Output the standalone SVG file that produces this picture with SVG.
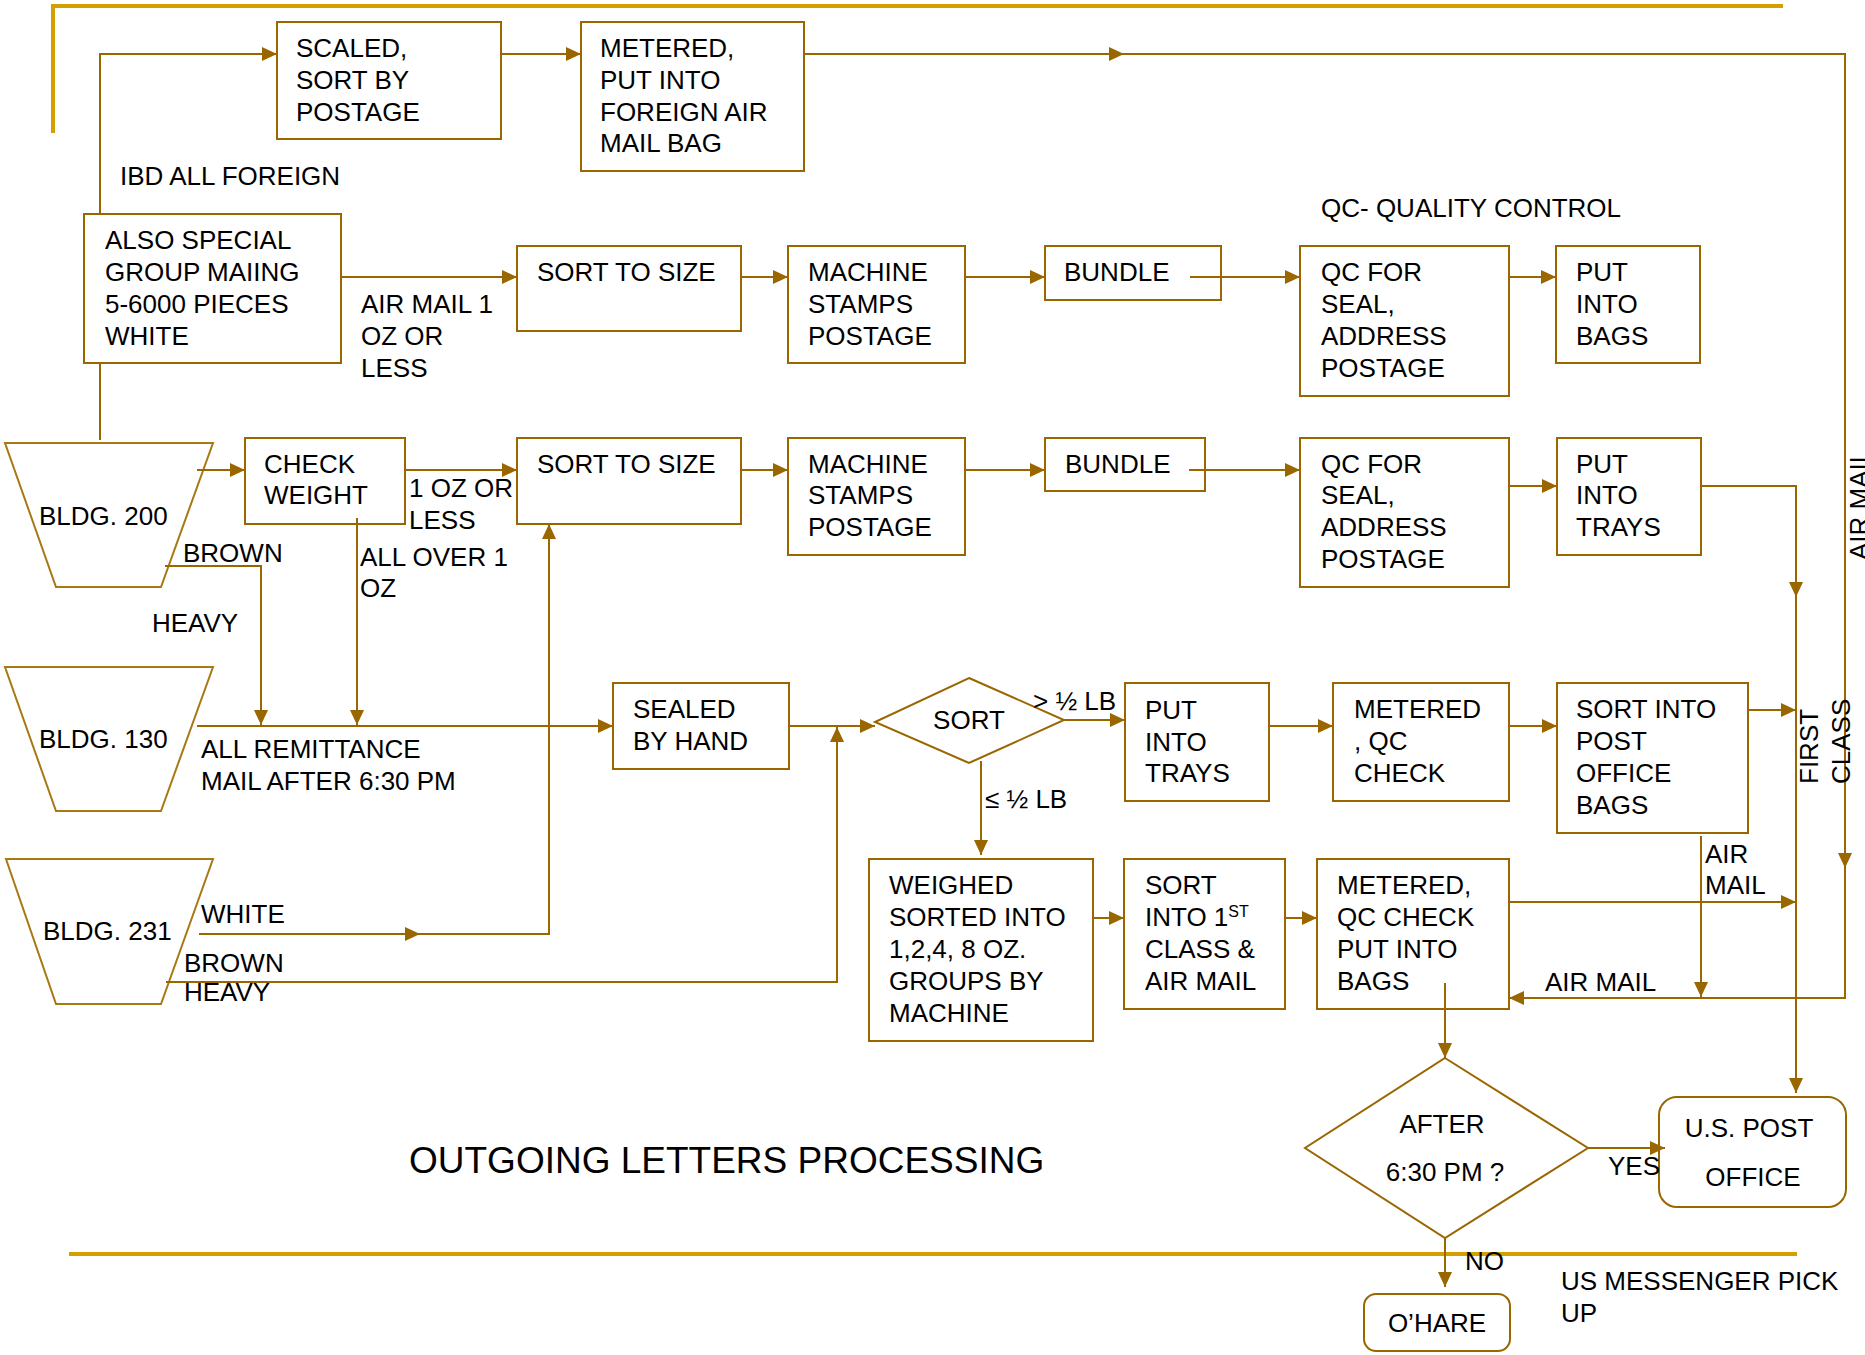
<svg xmlns="http://www.w3.org/2000/svg" width="1865" height="1355" viewBox="0 0 1865 1355">
  <style>
    .box { fill: #ffffff; stroke: #996600; stroke-width: 2; }
    .bld { fill: #ffffff; stroke: #A87815; stroke-width: 2; }
    .ln { fill: none; stroke: #996600; stroke-width: 2; }
    .arr { marker-end: url(#ah); }
    .frame { fill: none; stroke: #D4A000; stroke-width: 4; }
    text { font-family: "Liberation Sans", Arial, sans-serif; font-size: 26px; fill: #000000; }
    .mid { text-anchor: middle; }
    .title { font-size: 37px; }
  </style>
  <defs>
    <marker id="ah" markerUnits="userSpaceOnUse" markerWidth="15" markerHeight="14" viewBox="0 0 15 14" refX="15" refY="7" orient="auto">
      <path d="M0,0 L15,7 L0,14 z" fill="#996600"/>
    </marker>
  </defs>

  <rect x="0" y="0" width="1865" height="1355" fill="#ffffff"/>

  <!-- frame rules -->
  <g id="frame">
    <path class="frame" d="M53,133 V6 H1783"/>
    <path class="frame" d="M69,1254 H1797"/>
  </g>

  <!-- top branch: foreign mail -->
  <g id="n-scaled">
    <rect class="box" x="277" y="22" width="224" height="117"/>
    <text x="296"><tspan x="296" y="57">SCALED,</tspan><tspan x="296" y="89">SORT BY</tspan><tspan x="296" y="121">POSTAGE</tspan></text>
  </g>
  <g id="n-metered-foreign">
    <rect class="box" x="581" y="22" width="223" height="149"/>
    <text><tspan x="600" y="57">METERED,</tspan><tspan x="600" y="89">PUT INTO</tspan><tspan x="600" y="121">FOREIGN AIR</tspan><tspan x="600" y="152">MAIL BAG</tspan></text>
  </g>
  <g id="n-special">
    <rect class="box" x="84" y="214" width="257" height="149"/>
    <text><tspan x="105" y="249">ALSO SPECIAL</tspan><tspan x="105" y="281">GROUP MAIING</tspan><tspan x="105" y="313">5-6000 PIECES</tspan><tspan x="105" y="345">WHITE</tspan></text>
  </g>

  <!-- air mail row -->
  <g id="n-size1">
    <rect class="box" x="517" y="246" width="224" height="85"/>
    <text x="537" y="281">SORT TO SIZE</text>
  </g>
  <g id="n-stamps1">
    <rect class="box" x="788" y="246" width="177" height="117"/>
    <text><tspan x="808" y="281">MACHINE</tspan><tspan x="808" y="313">STAMPS</tspan><tspan x="808" y="345">POSTAGE</tspan></text>
  </g>
  <g id="n-bundle1">
    <rect class="box" x="1045" y="246" width="176" height="54"/>
    <text x="1064" y="281">BUNDLE</text>
  </g>
  <g id="n-qc1">
    <rect class="box" x="1300" y="246" width="209" height="150"/>
    <text><tspan x="1321" y="281">QC FOR</tspan><tspan x="1321" y="313">SEAL,</tspan><tspan x="1321" y="345">ADDRESS</tspan><tspan x="1321" y="377">POSTAGE</tspan></text>
  </g>
  <g id="n-bags1">
    <rect class="box" x="1556" y="246" width="144" height="117"/>
    <text><tspan x="1576" y="281">PUT</tspan><tspan x="1576" y="313">INTO</tspan><tspan x="1576" y="345">BAGS</tspan></text>
  </g>

  <!-- first class row -->
  <g id="n-bldg200">
    <polygon class="bld" points="5,443 213,443 161,587 56,587"/>
    <text x="39" y="525">BLDG. 200</text>
  </g>
  <g id="n-check">
    <rect class="box" x="245" y="438" width="160" height="86"/>
    <text><tspan x="264" y="473">CHECK</tspan><tspan x="264" y="504">WEIGHT</tspan></text>
  </g>
  <g id="n-size2">
    <rect class="box" x="517" y="438" width="224" height="86"/>
    <text x="537" y="473">SORT TO SIZE</text>
  </g>
  <g id="n-stamps2">
    <rect class="box" x="788" y="438" width="177" height="117"/>
    <text><tspan x="808" y="473">MACHINE</tspan><tspan x="808" y="504">STAMPS</tspan><tspan x="808" y="536">POSTAGE</tspan></text>
  </g>
  <g id="n-bundle2">
    <rect class="box" x="1045" y="438" width="160" height="53"/>
    <text x="1065" y="473">BUNDLE</text>
  </g>
  <g id="n-qc2">
    <rect class="box" x="1300" y="438" width="209" height="149"/>
    <text><tspan x="1321" y="473">QC FOR</tspan><tspan x="1321" y="504">SEAL,</tspan><tspan x="1321" y="536">ADDRESS</tspan><tspan x="1321" y="568">POSTAGE</tspan></text>
  </g>
  <g id="n-trays2">
    <rect class="box" x="1557" y="438" width="144" height="117"/>
    <text><tspan x="1576" y="473">PUT</tspan><tspan x="1576" y="504">INTO</tspan><tspan x="1576" y="536">TRAYS</tspan></text>
  </g>

  <!-- remittance / heavy row -->
  <g id="n-bldg130">
    <polygon class="bld" points="5,667 213,667 161,811 56,811"/>
    <text x="39" y="748">BLDG. 130</text>
  </g>
  <g id="n-hand">
    <rect class="box" x="613" y="683" width="176" height="86"/>
    <text><tspan x="633" y="718">SEALED</tspan><tspan x="633" y="750">BY HAND</tspan></text>
  </g>
  <g id="n-sort">
    <polygon class="box" points="969,678 1064,720 969,763 875,722"/>
    <text class="mid" x="969" y="729">SORT</text>
  </g>
  <g id="n-trays3">
    <rect class="box" x="1125" y="683" width="144" height="118"/>
    <text><tspan x="1145" y="719">PUT</tspan><tspan x="1145" y="751">INTO</tspan><tspan x="1145" y="782">TRAYS</tspan></text>
  </g>
  <g id="n-qc3">
    <rect class="box" x="1333" y="683" width="176" height="118"/>
    <text><tspan x="1354" y="718">METERED</tspan><tspan x="1354" y="750">, QC</tspan><tspan x="1354" y="782">CHECK</tspan></text>
  </g>
  <g id="n-pobags">
    <rect class="box" x="1557" y="683" width="191" height="150"/>
    <text><tspan x="1576" y="718">SORT INTO</tspan><tspan x="1576" y="750">POST</tspan><tspan x="1576" y="782">OFFICE</tspan><tspan x="1576" y="814">BAGS</tspan></text>
  </g>

  <!-- light letters row -->
  <g id="n-bldg231">
    <polygon class="bld" points="6,859 213,859 161,1004 56,1004"/>
    <text x="43" y="940">BLDG. 231</text>
  </g>
  <g id="n-weighed">
    <rect class="box" x="869" y="859" width="224" height="182"/>
    <text><tspan x="889" y="894">WEIGHED</tspan><tspan x="889" y="926">SORTED INTO</tspan><tspan x="889" y="958">1,2,4, 8 OZ.</tspan><tspan x="889" y="990">GROUPS BY</tspan><tspan x="889" y="1022">MACHINE</tspan></text>
  </g>
  <g id="n-class">
    <rect class="box" x="1124" y="859" width="161" height="150"/>
    <text><tspan x="1145" y="894">SORT</tspan><tspan x="1145" y="926">INTO 1<tspan font-size="16" dy="-9">ST</tspan></tspan><tspan x="1145" y="958">CLASS &amp;</tspan><tspan x="1145" y="990">AIR MAIL</tspan></text>
  </g>
  <g id="n-bags3">
    <rect class="box" x="1317" y="859" width="192" height="150"/>
    <text><tspan x="1337" y="894">METERED,</tspan><tspan x="1337" y="926">QC CHECK</tspan><tspan x="1337" y="958">PUT INTO</tspan><tspan x="1337" y="990">BAGS</tspan></text>
  </g>
  <g id="n-after">
    <polygon class="box" points="1445,1058 1588,1148 1445,1238 1305,1148"/>
    <text class="mid" x="1442" y="1133">AFTER</text>
    <text class="mid" x="1445" y="1181">6:30 PM ?</text>
  </g>
  <g id="n-uspo">
    <rect class="box" x="1659" y="1097" width="187" height="110" rx="18" ry="18"/>
    <text class="mid" x="1749" y="1137">U.S. POST</text>
    <text class="mid" x="1753" y="1186">OFFICE</text>
  </g>
  <g id="n-ohare">
    <rect class="box" x="1364" y="1294" width="146" height="57" rx="12" ry="12"/>
    <text class="mid" x="1437" y="1332">O’HARE</text>
  </g>

  <!-- connectors (drawn over the boxes, some start inside a box) -->
  <g id="connectors">
    <path class="ln arr" d="M100,214 V54 H277"/>
    <path class="ln" d="M100,440 V363"/>
    <path class="ln arr" d="M501,54 H581"/>
    <path class="ln arr" d="M804,54 H1124"/>
    <path class="ln arr" d="M1124,54 H1845 V868"/>
    <path class="ln arr" d="M1845,868 V998 H1509"/>
    <path class="ln arr" d="M341,277 H517"/>
    <path class="ln arr" d="M741,277 H788"/>
    <path class="ln arr" d="M965,277 H1045"/>
    <path class="ln arr" d="M1190,277 H1300"/>
    <path class="ln arr" d="M1509,277 H1556"/>

    <path class="ln arr" d="M197,470 H245"/>
    <path class="ln arr" d="M405,470 H517"/>
    <path class="ln arr" d="M741,470 H788"/>
    <path class="ln arr" d="M965,470 H1045"/>
    <path class="ln arr" d="M1189,470 H1300"/>
    <path class="ln arr" d="M1509,486 H1557"/>
    <path class="ln arr" d="M1701,486 H1796 V597"/>
    <path class="ln arr" d="M1796,597 V1093"/>
    <path class="ln arr" d="M357,518 V725"/>
    <path class="ln arr" d="M165,566 H261 V725"/>

    <path class="ln arr" d="M197,726 H613"/>
    <path class="ln arr" d="M789,726 H875"/>
    <path class="ln arr" d="M199,934 H420"/>
    <path class="ln arr" d="M420,934 H549 V524"/>
    <path class="ln arr" d="M166,982 H837 V727"/>
    <path class="ln arr" d="M1064,720 H1125"/>
    <path class="ln arr" d="M981,761 V855"/>
    <path class="ln arr" d="M1269,726 H1333"/>
    <path class="ln arr" d="M1509,726 H1557"/>
    <path class="ln arr" d="M1748,710 H1796"/>

    <path class="ln arr" d="M1093,918 H1124"/>
    <path class="ln arr" d="M1285,918 H1317"/>
    <path class="ln arr" d="M1509,902 H1796"/>
    <path class="ln arr" d="M1701,836 V997"/>
    <path class="ln arr" d="M1445,983 V1058"/>
    <path class="ln arr" d="M1588,1148 H1665"/>
    <path class="ln arr" d="M1445,1238 V1287"/>
  </g>

  <!-- connector labels -->
  <g id="labels">
    <text x="120" y="185">IBD ALL FOREIGN</text>
    <text x="1321" y="217">QC- QUALITY CONTROL</text>
    <text><tspan x="361" y="313">AIR MAIL 1</tspan><tspan x="361" y="345">OZ OR</tspan><tspan x="361" y="377">LESS</tspan></text>
    <text><tspan x="409" y="497">1 OZ OR</tspan><tspan x="409" y="529">LESS</tspan></text>
    <text><tspan x="360" y="566">ALL OVER 1</tspan><tspan x="360" y="597">OZ</tspan></text>
    <text x="183" y="562">BROWN</text>
    <text x="152" y="632">HEAVY</text>
    <text><tspan x="201" y="758">ALL REMITTANCE</tspan><tspan x="201" y="790">MAIL AFTER 6:30 PM</tspan></text>
    <text x="1033" y="710">&gt; ½ LB</text>
    <text x="985" y="808">≤ ½ LB</text>
    <text x="201" y="923">WHITE</text>
    <text><tspan x="184" y="972">BROWN</tspan><tspan x="184" y="1001">HEAVY</tspan></text>
    <text><tspan x="1705" y="863">AIR</tspan><tspan x="1705" y="894">MAIL</tspan></text>
    <text x="1545" y="991">AIR MAIL</text>
    <text transform="translate(1818,784) rotate(-90)">FIRST</text>
    <text transform="translate(1850,784) rotate(-90)">CLASS</text>
    <text transform="translate(1868,560) rotate(-90)">AIR MAIL</text>
    <text x="1608" y="1175">YES</text>
    <text x="1465" y="1270">NO</text>
    <text><tspan x="1561" y="1290">US MESSENGER PICK</tspan><tspan x="1561" y="1322">UP</tspan></text>
  </g>

  <text class="title" x="409" y="1173">OUTGOING LETTERS PROCESSING</text>
</svg>
